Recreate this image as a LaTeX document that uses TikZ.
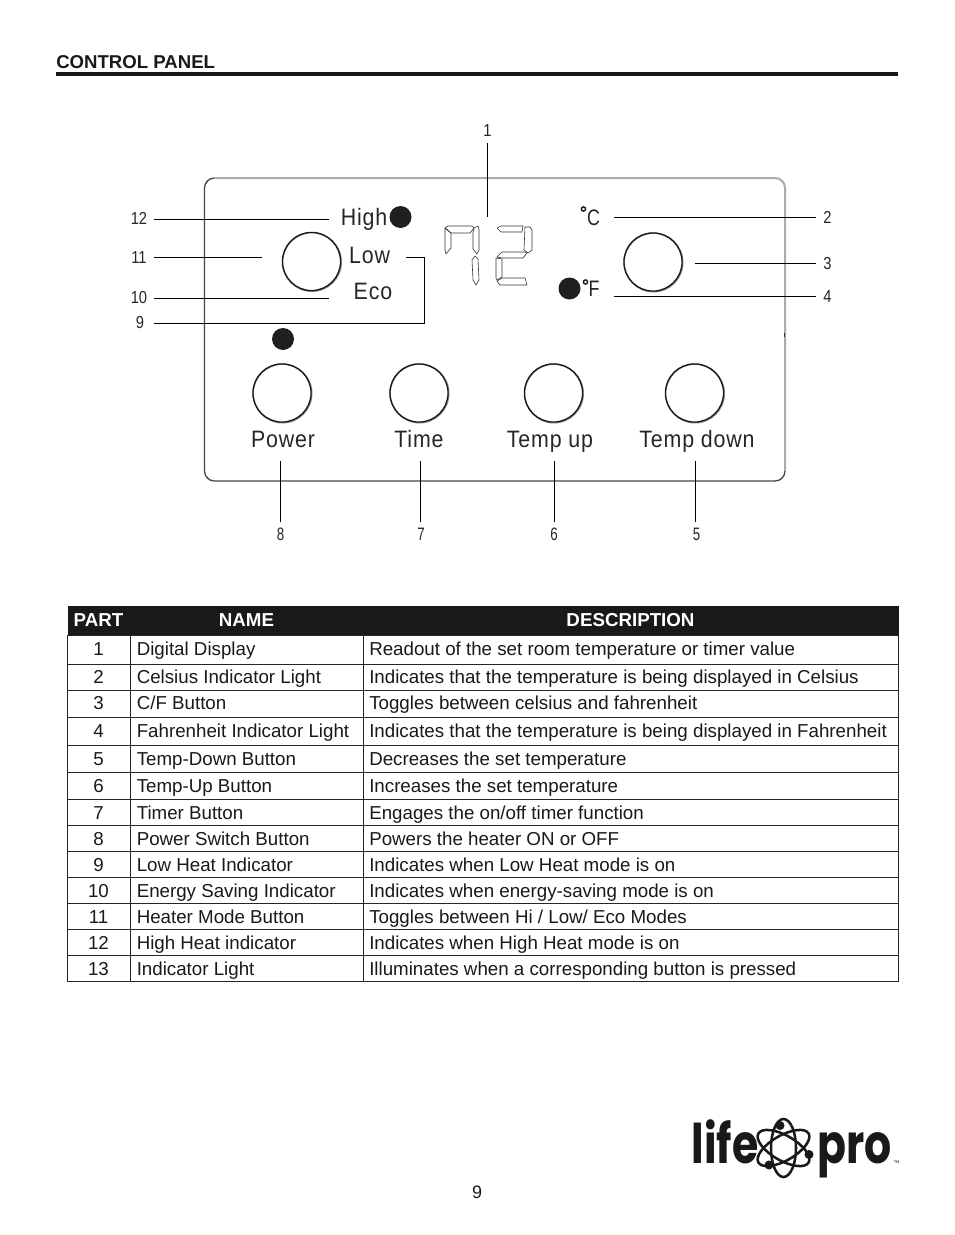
\documentclass[tikz,border=0pt]{standalone}
\usepackage{fontspec}
\setmainfont{Liberation Sans}[Ligatures=NoCommon]
\newfontfamily\panelfont[LetterSpace=4]{Liberation Sans}
\newfontfamily\logofont{Poppins}
\usetikzlibrary{calc}
\tikzset{
 x=0.75pt,y=-0.75pt,
 leader/.style={draw=black,line width=0.75pt},
 num/.style={font=\fontsize{13}{14}\selectfont,text=black!85,inner sep=0pt,anchor=center,xscale=0.85,transform shape},
 numb/.style={font=\fontsize{13.5}{14}\selectfont,text=black!85,inner sep=0pt,anchor=center,xscale=0.74,transform shape},
 ptxt/.style={font=\panelfont\fontsize{17.8}{19}\selectfont,text=black!85,inner sep=0pt,anchor=base,xscale=0.9,transform shape},
 cell/.style={font=\fontsize{14.05}{16}\selectfont,text=black!90,inner sep=0pt,anchor=base west},
 cellc/.style={font=\fontsize{14.05}{16}\selectfont,text=black!90,inner sep=0pt,anchor=base},
 head/.style={font=\bfseries\fontsize{14.05}{16}\selectfont,text=white,inner sep=0pt,anchor=base},
 rule/.style={draw=black!85,line width=0.7pt},
 lamp/.style={circle,fill=black!88,inner sep=0pt,minimum size=16.5pt},
 seg/.style={draw=black!80,line width=0.45pt,line join=round},
 orbit/.style={draw=black!90,line width=1.9pt},
 unit/.style={font=\fontsize{16.8}{18}\selectfont,text=black!85,inner sep=0pt,anchor=base,xscale=0.8,transform shape},
 logotxt/.style={font=\logofont\bfseries\fontsize{41}{46}\selectfont,text=black!90,inner sep=0pt,anchor=base west,xscale=0.78,transform shape},
}
\newcommand{\btn}[3]{%
 \node[circle,draw=black!45,line width=1pt,minimum size=44pt,inner sep=0pt] at ($(#2,#3)+(0.5,0.5)$) {};
 \node[circle,draw=black!90,line width=1pt,minimum size=43.6pt,inner sep=0pt] (#1) at (#2,#3) {};
}
\begin{document}
\begin{tikzpicture}
\useasboundingbox (0,0) rectangle (954,1235);
\fill[white] (0,0) rectangle (954,1235);
% heading
\node[font=\bfseries\fontsize{13.95}{15}\selectfont,text=black!90,inner sep=0pt,anchor=base west] (title) at (56,68) {CONTROL PANEL};
\coordinate (hl) at (56,74); \coordinate (hr) at (898,74);
\draw[black!90,line width=2.4pt] (hl) -- (hr);
% panel
\draw[black!72,line width=1pt] (785,471) arc[start angle=0,end angle=90,radius=10] -- (214.5,481) arc[start angle=90,end angle=180,radius=10] -- (204.5,188) arc[start angle=180,end angle=270,radius=10];
\draw[black!33,line width=1.5pt] (214.5,178) -- (775,178) arc[start angle=-90,end angle=0,radius=10] -- (785,471);
\draw[black!80,line width=0.7pt] (784.5,333) -- (784.5,337);
% buttons
\btn{bmode}{311.5}{261.5}
\btn{bcf}{653}{262}
\btn{bpower}{282}{393}
\btn{btime}{419}{393}
\btn{bup}{553.5}{393}
\btn{bdown}{694.5}{393}
% lamps
\node[lamp] (lhigh) at (400.5,217) {};
\node[lamp] (lf) at (569.5,288.5) {};
\node[lamp] (lpower) at (283,339) {};
% panel text
\node[ptxt] (thigh) at (364,225) {High};
\node[ptxt] (tlow) at (369.5,263) {Low};
\node[ptxt] (teco) at (373,299) {Eco};
\node[ptxt] (tpower) at (283,447) {Power};
\node[ptxt] (ttime) at (419,447) {Time};
\node[ptxt] (tup) at (550,447) {Temp up};
\node[ptxt] (tdown) at (697,447) {Temp down};
\node[unit] (tc) at (593.5,225) {C};
\node[unit] (tf) at (594,296.5) {F};
\draw[black!85,line width=1.1pt] (583.5,209) circle[radius=2.1];
\draw[black!85,line width=1.1pt] (585.5,282) circle[radius=2.1];
% digits
\draw[seg] (445,228)--(451,233)--(451,248)--(446,254)--(445,250)--cycle;
\draw[seg] (445,228)--(448,226)--(472,226)--(474,228)--(470,233)--(451,233)--cycle;
\draw[seg] (474,228)--(478,226)--(479,229)--(479,250)--(477,254)--(473,249)--(473,233)--cycle;
\draw[seg] (475,256)--(478,259)--(479,280)--(476,285)--(473,280)--(472,260)--cycle;
\draw[seg] (497,228)--(501,226)--(523,226)--(522,232)--(501,232)--cycle;
\draw[seg] (525,227)--(530,227)--(532,230)--(532,250)--(528,253)--(524,250)--cycle;
\draw[seg] (497,257)--(502,252)--(525,252)--(527,253)--(523,258)--(502,258)--cycle;
\draw[seg] (496,258)--(502,259)--(502,277)--(497,280)--(496,278)--cycle;
\draw[seg] (497,281)--(502,278)--(525,278)--(527,285)--(500,285)--cycle;
% leaders and numbers
\node[num] (n1) at (487.5,130.5) {1};
\coordinate (e1a) at (487.5,143); \coordinate (e1b) at (487.5,217);
\draw[leader] (e1a) -- (e1b);
\node[num] (n12) at (139,218.5) {12};
\coordinate (e12a) at (154,219); \coordinate (e12b) at (329,219);
\draw[leader] (e12a) -- (e12b);
\node[num] (n11) at (139,257.5) {11};
\coordinate (e11a) at (154,257); \coordinate (e11b) at (262,257);
\draw[leader] (e11a) -- (e11b);
\node[num] (n10) at (139,297.5) {10};
\coordinate (e10a) at (154,298); \coordinate (e10b) at (329,298);
\draw[leader] (e10a) -- (e10b);
\node[num] (n9) at (140,322.5) {9};
\coordinate (e9a) at (154,323); \coordinate (e9b) at (424.5,323); \coordinate (e9c) at (424.5,257); \coordinate (e9d) at (406,257);
\draw[leader] (e9a) -- (e9b) -- (e9c) -- (e9d);
\node[num] (n2) at (827.5,217.5) {2};
\coordinate (e2a) at (614,217); \coordinate (e2b) at (816,217);
\draw[leader] (e2a) -- (e2b);
\node[num] (n3) at (827.5,263.5) {3};
\coordinate (e3a) at (695,263); \coordinate (e3b) at (816,263);
\draw[leader] (e3a) -- (e3b);
\node[num] (n4) at (827.5,296.5) {4};
\coordinate (e4a) at (614,296); \coordinate (e4b) at (816,296);
\draw[leader] (e4a) -- (e4b);
\foreach \nm/\x/\lx in {8/280.5/280.5,7/420.5/421,6/554.5/554,5/695.5/696.5}{
 \node[numb] (n\nm) at (\lx,534.5) {\nm};
 \coordinate (e\nm a) at (\x,461); \coordinate (e\nm b) at (\x,522);
 \draw[leader] (e\nm a) -- (e\nm b);
}
% table
\fill[black!90] (67.5,606) rectangle (898.5,635);
\node[head] (hp) at (98.5,626) {PART};
\node[head] (hn) at (246.5,626) {NAME};
\node[head] (hd) at (630.5,626) {DESCRIPTION};
\draw[rule] (67.5,635) rectangle (898.5,981.5);
\draw[rule] (130.5,635) -- (130.5,981.5);
\draw[rule] (363.5,635) -- (363.5,981.5);
\foreach \y in {664,690.5,717,745.5,772.5,799.5,825.5,851.5,877.5,903.5,929.5,955.5}{
 \draw[rule] (67.5,\y) -- (898.5,\y);
}
\foreach \i/\y/\a/\b in {
1/655/Digital Display/Readout of the set room temperature or timer value,
2/683/Celsius Indicator Light/Indicates that the temperature is being displayed in Celsius,
3/709/C{/}F Button/Toggles between celsius and fahrenheit,
4/737/Fahrenheit Indicator Light/Indicates that the temperature is being displayed in Fahrenheit,
5/765/Temp-Down Button/Decreases the set temperature,
6/792/Temp-Up Button/Increases the set temperature,
7/819/Timer Button/Engages the on{/}off timer function,
8/845/Power Switch Button/Powers the heater ON or OFF,
9/871/Low Heat Indicator/Indicates when Low Heat mode is on,
10/897/Energy Saving Indicator/Indicates when energy-saving mode is on,
11/923/Heater Mode Button/Toggles between Hi {/} Low{/} Eco Modes,
12/949/High Heat indicator/Indicates when High Heat mode is on,
13/975/Indicator Light/Illuminates when a corresponding button is pressed}{
 \node[cellc] (p\i) at (98.5,\y) {\i};
 \node[cell] (a\i) at (136.5,\y) {\a};
 \node[cell] (b\i) at (369,\y) {\b};
}
% logo
\node[logotxt] (lg1) at (691.5,1163) {life};
\node[logotxt] (lg2) at (817,1163) {pro};
\node[font=\fontsize{3}{3}\selectfont,text=black!90,inner sep=0pt,anchor=west] (lg3) at (893.5,1162) {TM};
\foreach \a in {-60,0,60}{
 \draw[orbit] (783.5,1148) ellipse[x radius=12.5,y radius=29,rotate=\a];
}
\fill[black!90] (780,1125.5) circle[radius=4.5];
\fill[black!90] (809,1154.5) circle[radius=4.5];
\fill[black!90] (769,1165) circle[radius=4.5];
% page number
\node[font=\fontsize{13.5}{15}\selectfont,text=black!90,inner sep=0pt] (pg) at (477,1192) {9};
\end{tikzpicture}
\end{document}
